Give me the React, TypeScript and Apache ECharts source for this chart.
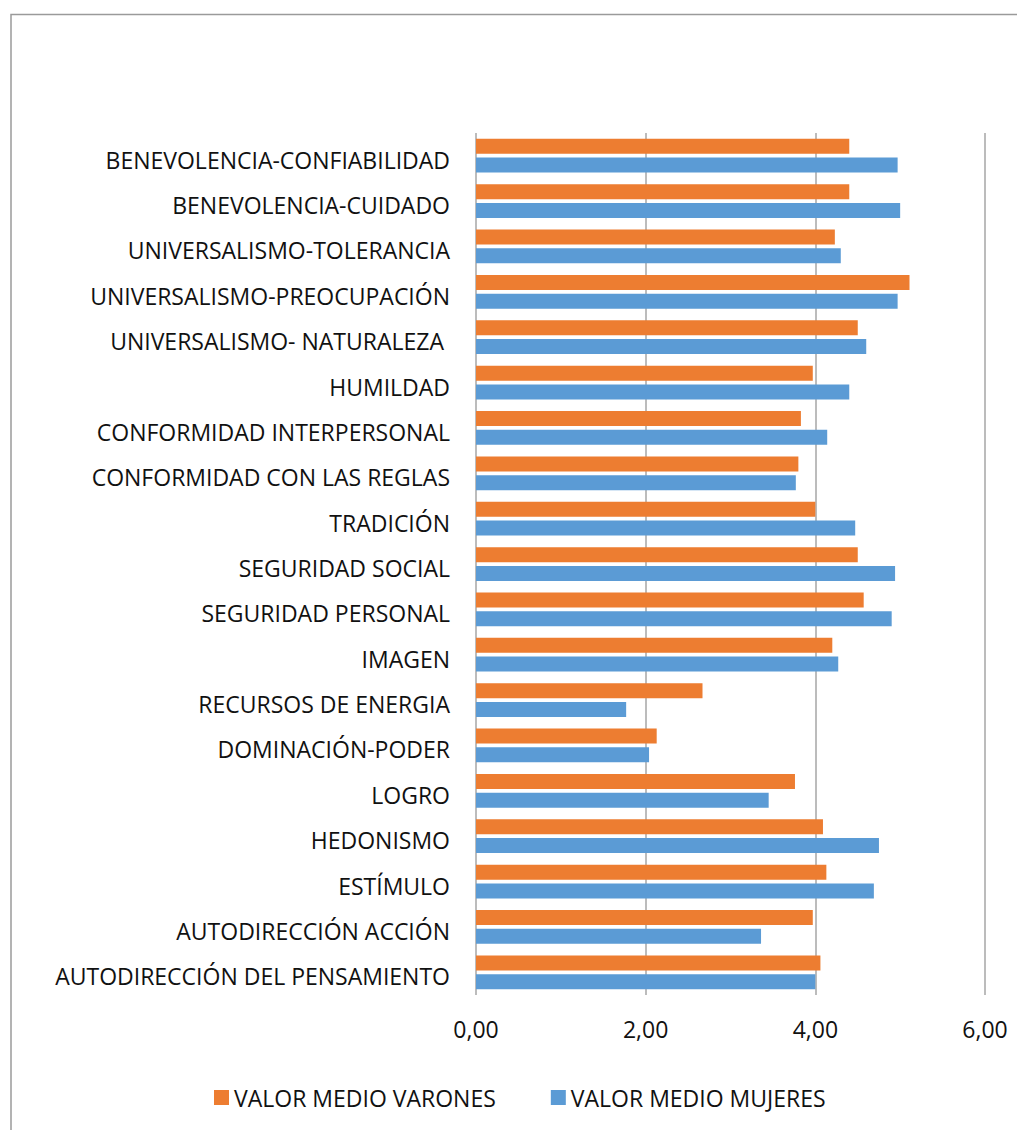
import React, { useEffect, useRef } from "react";
import * as echarts from "echarts";

// Categories, bottom to top (ECharts category y-axis starts at the bottom)
const categories = [
  "AUTODIRECCIÓN DEL PENSAMIENTO",
  "AUTODIRECCIÓN ACCIÓN",
  "ESTÍMULO",
  "HEDONISMO",
  "LOGRO",
  "DOMINACIÓN-PODER",
  "RECURSOS DE ENERGIA",
  "IMAGEN",
  "SEGURIDAD PERSONAL",
  "SEGURIDAD SOCIAL",
  "TRADICIÓN",
  "CONFORMIDAD CON LAS REGLAS",
  "CONFORMIDAD INTERPERSONAL",
  "HUMILDAD",
  "UNIVERSALISMO- NATURALEZA ",
  "UNIVERSALISMO-PREOCUPACIÓN",
  "UNIVERSALISMO-TOLERANCIA",
  "BENEVOLENCIA-CUIDADO",
  "BENEVOLENCIA-CONFIABILIDAD",
];

const varones = [
  4.06, 3.97, 4.13, 4.09, 3.76, 2.13, 2.67, 4.2, 4.57, 4.5, 4.0, 3.8, 3.83,
  3.97, 4.5, 5.11, 4.23, 4.4, 4.4,
];

const mujeres = [
  4.0, 3.36, 4.69, 4.75, 3.45, 2.04, 1.77, 4.27, 4.9, 4.94, 4.47, 3.77, 4.14,
  4.4, 4.6, 4.97, 4.3, 5.0, 4.97,
];

const seriesNames = ["VALOR MEDIO VARONES", "VALOR MEDIO MUJERES"];
const xTicks = { min: 0, max: 6, interval: 2 };

const FONT = "'Open Sans', sans-serif";

export default function App() {
  const ref = useRef<HTMLDivElement>(null);

  useEffect(() => {
    if (!ref.current) return;
    const chart = echarts.init(ref.current, undefined, { renderer: "svg" });
    chart.setOption({
      animation: false,
      backgroundColor: "#ffffff",
      textStyle: { fontFamily: FONT },
      graphic: [
        {
          type: "rect",
          left: 8.5,
          top: 12,
          shape: { x: 0, y: 0, width: 1100, height: 1200 },
          style: { fill: "none", stroke: "#9a9a9a", lineWidth: 1.5 },
          silent: true,
          z: -1,
        },
      ],
      grid: { left: 476, right: 32, top: 133, bottom: 135, containLabel: false },
      legend: {
        data: seriesNames,
        left: 209,
        top: 1081,
        icon: "rect",
        itemWidth: 15,
        itemHeight: 15,
        itemGap: 55,
        textStyle: { fontSize: 23, color: "#111", fontFamily: FONT },
      },
      xAxis: {
        type: "value",
        min: xTicks.min,
        max: xTicks.max,
        interval: xTicks.interval,
        axisLine: { show: false },
        axisTick: { show: false },
        splitLine: { show: true, lineStyle: { color: "#a6a6a6", width: 1.5 } },
        axisLabel: {
          fontSize: 23,
          color: "#111",
          margin: 22,
          fontFamily: FONT,
          formatter: (v: number) => v.toFixed(2).replace(".", ","),
        },
      },
      yAxis: {
        type: "category",
        data: categories,
        axisLine: { show: false },
        axisTick: { show: false },
        splitLine: { show: false },
        axisLabel: {
          margin: 26,
          formatter: (v: string) => `{t|${v}}`,
          rich: {
            t: {
              fontSize: 23,
              color: "#111",
              fontFamily: FONT,
              lineHeight: 23,
              padding: [8, 0, 0, 0],
            },
          },
        },
      },
      series: [
        {
          name: seriesNames[0],
          type: "bar",
          data: varones,
          barWidth: 15,
          barGap: "25%",
          itemStyle: { color: "#ED7D31" },
        },
        {
          name: seriesNames[1],
          type: "bar",
          data: mujeres,
          barWidth: 15,
          barGap: "25%",
          itemStyle: { color: "#5B9BD5" },
        },
      ],
    });
    return () => chart.dispose();
  }, []);

  return (
    <div
      ref={ref}
      style={{ position: "absolute", left: 0, top: 0, width: 1017, height: 1130 }}
    />
  );
}
